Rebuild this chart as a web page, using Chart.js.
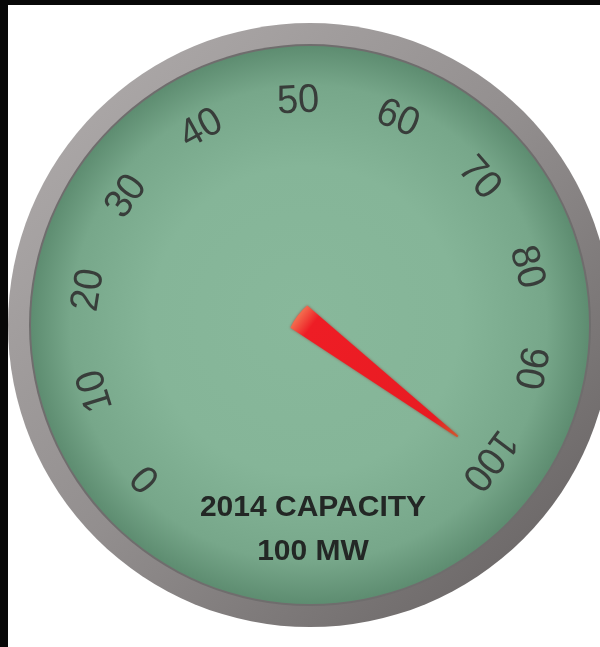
<!DOCTYPE html>
<html>
<head>
<meta charset="utf-8">
<style>
  html, body { margin: 0; padding: 0; background: #fff; }
  canvas { display: block; }
</style>
<script src="https://cdn.jsdelivr.net/npm/chart.js@4"></script>
</head>
<body>
<canvas id="canvas" width="600" height="647"></canvas>
<script>
// gauge scale and reading
const tickLabels = [0, 10, 20, 30, 40, 50, 60, 70, 80, 90, 100];
const gaugeValue = [100];
const captionLines = ["2014 CAPACITY", "100 MW"];

// one transparent arc per scale interval, the plugin below uses their angles
const intervals = tickLabels.slice(1).map((t, i) => t - tickLabels[i]);

const gaugePlugin = {
  id: "gauge",
  beforeDraw(chart) {
    const ctx = chart.ctx;
    const arc = chart.getDatasetMeta(0).data[0];
    const cx = arc.x, cy = arc.y;
    ctx.save();
    ctx.fillStyle = "#ffffff";
    ctx.fillRect(0, 0, chart.width, chart.height);
    ctx.fillStyle = "#080808";
    ctx.fillRect(0, 0, 8, chart.height);
    ctx.fillRect(0, 0, chart.width, 5);

    // bezel
    let g = ctx.createLinearGradient(cx - 220, cy - 220, cx + 220, cy + 220);
    g.addColorStop(0, "#aaa6a6");
    g.addColorStop(0.5, "#928e8e");
    g.addColorStop(1, "#6e6a6a");
    ctx.beginPath();
    ctx.arc(cx, cy, 302, 0, Math.PI * 2);
    ctx.fillStyle = g;
    ctx.fill();

    // dark ring at face edge
    ctx.beginPath();
    ctx.arc(cx, cy, 281, 0, Math.PI * 2);
    ctx.fillStyle = "#6f6d6d";
    ctx.fill();

    // face
    g = ctx.createRadialGradient(cx - 10, cy - 10, 0, cx, cy, 280);
    g.addColorStop(0, "#88b89b");
    g.addColorStop(0.55, "#85b598");
    g.addColorStop(0.85, "#77a78a");
    g.addColorStop(1, "#5d8c70");
    ctx.beginPath();
    ctx.arc(cx, cy, 279, 0, Math.PI * 2);
    ctx.fillStyle = g;
    ctx.fill();
    ctx.restore();
  },
  afterDatasetsDraw(chart) {
    const ctx = chart.ctx;
    const arcs = chart.getDatasetMeta(0).data;
    const cx = arcs[0].x, cy = arcs[0].y;
    const r = arcs[0].outerRadius;
    const a0 = arcs[0].startAngle;
    const a1 = arcs[arcs.length - 1].endAngle;

    // tick labels, turned to follow the dial
    ctx.save();
    ctx.font = "40px 'Liberation Sans', Arial, sans-serif";
    ctx.fillStyle = "#383d3a";
    ctx.textAlign = "center";
    ctx.textBaseline = "middle";
    tickLabels.forEach((t, i) => {
      const a = i < arcs.length ? arcs[i].startAngle : a1;
      ctx.save();
      ctx.translate(cx + r * Math.cos(a), cy + r * Math.sin(a));
      ctx.rotate(a + Math.PI / 2);
      ctx.scale(0.95, 1);
      ctx.fillText(String(t), 0, 0);
      ctx.restore();
    });
    ctx.restore();

    // caption
    ctx.save();
    ctx.font = "bold 30px 'Liberation Sans', Arial, sans-serif";
    ctx.fillStyle = "#232725";
    ctx.textAlign = "center";
    ctx.textBaseline = "middle";
    captionLines.forEach((line, i) => {
      ctx.fillText(line, cx + 3, cy + 183 + i * 44);
    });
    ctx.restore();

    // needle
    const min = tickLabels[0], max = tickLabels[tickLabels.length - 1];
    const ang = a0 + (gaugeValue[0] - min) / (max - min) * (a1 - a0);
    const len = 185, back = 14, half = 14;
    ctx.save();
    ctx.translate(cx, cy);
    ctx.rotate(ang);
    const ng = ctx.createLinearGradient(-back, 0, len, 0);
    ng.addColorStop(0, "#f3684c");
    ng.addColorStop(0.08, "#ee1d25");
    ng.addColorStop(0.85, "#e81b22");
    ng.addColorStop(1, "#d0582e");
    ctx.shadowColor = "rgba(150, 20, 20, 0.55)";
    ctx.shadowBlur = 3;
    ctx.beginPath();
    ctx.moveTo(-back, -half);
    ctx.lineTo(len, -1);
    ctx.lineTo(len, 1);
    ctx.lineTo(-back, half);
    ctx.quadraticCurveTo(-back - 3, 0, -back, -half);
    ctx.closePath();
    ctx.fillStyle = ng;
    ctx.fill();
    ctx.restore();
  },
};

const config = {
  type: "doughnut",
  data: {
    labels: tickLabels.slice(1).map((t, i) => tickLabels[i] + "-" + t),
    datasets: [
      {
        data: intervals,
        backgroundColor: "rgba(0,0,0,0)",
        borderWidth: 0,
      },
    ],
  },
  options: {
    responsive: false,
    animation: false,
    rotation: 227,
    circumference: 260,
    radius: 224,
    cutout: "90%",
    layout: { padding: { left: 20, right: 0, top: 0, bottom: 68 } },
    events: [],
    plugins: {
      legend: { display: false },
      tooltip: { enabled: false },
    },
  },
  plugins: [gaugePlugin],
};

const canvas = document.getElementById("canvas");
const chart = new Chart(canvas, config);
</script>
</body>
</html>
